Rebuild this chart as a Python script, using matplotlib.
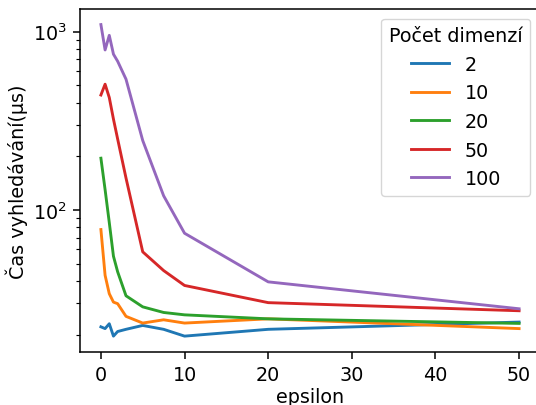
import matplotlib
matplotlib.use("Agg")
import matplotlib.pyplot as plt

eps = [0, 0.5, 1, 1.5, 2, 3, 5, 7.5, 10, 20, 50]
dims = ["2", "10", "20", "50", "100"]
t_2 = [22.1, 21.6, 23.0, 19.6, 20.8, 21.4, 22.5, 21.4, 19.6, 21.4, 23.5]
t_10 = [77.6, 43.0, 33.9, 30.4, 29.8, 25.3, 23.2, 24.2, 23.2, 24.5, 21.6]
t_20 = [195, 130, 85, 55, 45, 33.0, 28.6, 26.6, 25.8, 24.5, 23.1]
t_50 = [441, 507, 427, 323, 250, 151, 58.2, 45.7, 37.7, 30.2, 27.2]
t_100 = [1095, 789, 953, 747, 682, 541, 245, 120, 74, 39.5, 27.9]
series = [t_2, t_10, t_20, t_50, t_100]

s = 1.38
plt.rcParams.update({
    'font.size': 10 * s,
    'axes.linewidth': 0.8 * s,
    'xtick.major.width': 0.8 * s, 'ytick.major.width': 0.8 * s,
    'xtick.minor.width': 0.6 * s, 'ytick.minor.width': 0.6 * s,
    'xtick.major.size': 3.5 * s, 'ytick.major.size': 3.5 * s,
    'xtick.minor.size': 2 * s, 'ytick.minor.size': 2 * s,
    'xtick.major.pad': 3.5 * s, 'ytick.major.pad': 3.5 * s,
    'legend.title_fontsize': 10 * s,
})
fig = plt.figure(figsize=(5.36, 4.06), dpi=100)
ax = fig.add_axes([80/536, (406-352.7)/406, 460/536, 342.7/406])
for name, vals in zip(dims, series):
    ax.plot(eps, vals, label=name, linewidth=1.5 * s)
ax.set_yscale('log')
ax.set_xlabel('epsilon', labelpad=2.0)
ax.set_ylabel('Čas vyhledávání(μs)', labelpad=3.5)
ax.legend(title='Počet dimenzí', loc='upper right')
fig.savefig('out.png', dpi=100)
